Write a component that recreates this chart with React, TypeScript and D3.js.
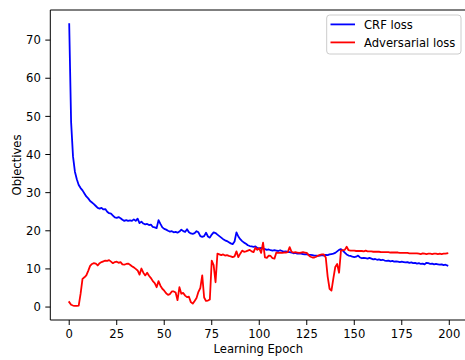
import React from "react";
import * as d3 from "d3";

const crfLoss: number[] = [
  74.2, 48.5, 39.5, 35.5, 33.5, 32.0, 31.2, 30.6, 29.8, 29.0,
  28.5, 27.8, 27.4, 27.0, 26.5, 26.0, 25.8, 26.0, 25.6, 25.7,
  25.0, 24.6, 24.5, 24.0, 23.5, 23.4, 23.6, 23.3, 22.9, 22.6,
  22.8, 22.6, 22.7, 22.6, 23.0, 22.6, 23.2, 22.0, 22.4, 21.9,
  21.7, 21.8, 21.5, 21.6, 21.0, 20.9, 20.7, 22.8, 21.8, 20.9,
  20.5, 20.3, 20.0, 19.8, 19.9, 19.6, 19.7, 19.5, 19.8, 20.3,
  19.9, 19.7, 20.4, 19.6, 19.3, 19.2, 19.4, 19.9, 19.6, 18.6,
  18.4, 18.6, 19.5, 18.5, 18.2, 19.0, 19.6, 19.4, 19.0, 18.6,
  18.2, 17.8, 17.5, 17.3, 17.0, 16.7, 16.5, 17.2, 19.6, 18.5,
  17.8, 17.3, 16.9, 16.6, 16.2, 16.0, 15.9, 15.8, 15.9, 15.5,
  15.4, 15.5, 15.3, 15.2, 15.0, 15.1, 14.9, 14.8, 14.9, 14.8,
  14.7, 14.9, 14.7, 14.5, 14.6, 14.4, 14.4, 14.3, 14.1, 14.2,
  14.0, 14.1, 14.0, 13.9, 13.8, 13.9, 13.7, 13.7, 13.6, 13.5,
  13.5, 13.4, 13.5, 13.6, 13.5, 13.7, 13.6, 13.8, 13.9, 14.0,
  14.2, 14.6, 15.0, 15.2, 14.8, 14.3, 13.8, 13.5, 13.4, 13.2,
  13.1, 13.2, 13.5, 13.0, 12.8, 12.9, 12.8, 12.7, 12.9, 12.7,
  12.5, 12.6, 12.4, 12.5, 12.3, 12.4, 12.2, 12.1, 12.2, 12.0,
  12.1, 11.9, 12.0, 11.9, 11.8, 11.9, 11.8, 11.7, 11.8, 11.6,
  11.7, 11.5, 11.6, 11.4, 11.5, 11.3, 11.4, 11.2, 11.6, 11.5,
  11.3, 11.4, 11.2, 11.3, 11.2, 11.1, 11.2, 11.0, 11.1, 10.9,
];

const adversarialLoss: number[] = [
  1.3, 0.6, 0.4, 0.3, 0.3, 0.4, 3.5, 7.4, 7.8, 8.3,
  9.5, 10.8, 11.3, 11.5, 11.4, 10.9, 11.5, 11.8, 12.0, 12.2,
  12.1, 12.3, 11.9, 11.5, 11.8, 11.9, 11.6, 11.8, 11.2, 11.1,
  11.3, 11.4, 11.1, 10.7, 10.4, 10.0, 9.6, 8.5, 10.1, 9.0,
  8.3, 9.0, 8.2, 7.6, 6.8, 6.3, 5.2, 6.8, 5.6, 4.8,
  4.3, 3.6, 3.2, 3.4, 4.1, 4.1, 3.8, 1.8, 5.2, 3.5,
  3.7, 3.0, 2.6, 2.7, 1.3, 0.9, 1.6, 2.4, 4.0, 5.0,
  8.3, 2.5, 1.6, 1.7, 2.0, 12.2, 11.0, 6.5, 14.0, 13.8,
  13.6, 13.8, 13.5, 13.6, 13.4, 13.3, 13.1, 13.3, 14.6, 13.1,
  14.0, 14.8, 14.5, 14.6, 14.8, 15.0, 14.6, 14.4, 15.6, 15.0,
  15.4, 14.2, 16.9, 13.0, 12.9, 13.5, 13.4, 12.8, 12.7, 14.3,
  14.2, 14.3, 14.2, 14.3, 14.3, 14.4, 15.7, 14.5, 14.3, 14.4,
  14.3, 14.2, 14.3, 14.4, 14.3, 14.2, 13.6, 13.2, 13.0, 13.0,
  13.2, 13.5, 13.7, 13.8, 13.8, 13.0, 8.0, 4.8, 4.3, 7.5,
  10.5, 11.3, 9.0, 14.8, 14.9, 15.0, 15.8, 14.9, 14.8, 14.8,
  14.8, 14.7, 14.7, 14.7, 14.7, 14.6, 14.8, 14.6, 14.6, 14.6,
  14.5, 14.5, 14.5, 14.5, 14.4, 14.4, 14.4, 14.4, 14.4, 14.3,
  14.3, 14.3, 14.3, 14.3, 14.2, 14.2, 14.2, 14.2, 14.2, 14.1,
  14.1, 14.1, 14.1, 14.1, 14.0, 13.9, 14.1, 14.0, 13.9, 14.0,
  14.0, 13.9, 14.0, 14.0, 13.9, 14.0, 13.9, 14.0, 14.0, 14.1,
];

const xTicks: number[] = [0, 25, 50, 75, 100, 125, 150, 175, 200];
const yTicks: number[] = [0, 10, 20, 30, 40, 50, 60, 70];
const seriesNames: string[] = ["CRF loss", "Adversarial loss"];
const seriesColors: string[] = ["#0000ff", "#ff0000"];
const xLabel = "Learning Epoch";
const yLabel = "Objectives";

const W = 465;
const H = 360;
const plot = { left: 50.3, right: 466.3, top: 10, bottom: 320 };
const FONT = "'DejaVu Sans', sans-serif";
const FS = 11.6;

export default function App() {
  const n = crfLoss.length;
  const xPad = (n - 1) * 0.05;
  const x = d3.scaleLinear().domain([-xPad, n - 1 + xPad]).range([plot.left, plot.right]);
  const all = [...crfLoss, ...adversarialLoss];
  const [mn, mx] = d3.extent(all) as [number, number];
  const yPad = (mx - mn) * 0.05;
  const y = d3.scaleLinear().domain([mn - yPad, mx + yPad]).range([plot.bottom, plot.top]);

  const line = d3
    .line<number>()
    .x((_, i) => x(i))
    .y((d) => y(d));

  const series = [crfLoss, adversarialLoss];

  const legend = { x: 326.7, y: 15, w: 134.3, h: 39 };

  return (
    <div style={{ position: "fixed", left: 0, top: 0, width: W, height: H, background: "#fff" }}>
      <svg width={W} height={H} style={{ display: "block" }} fontFamily={FONT}>
        <rect x={0} y={0} width={W} height={H} fill="#fff" />
        <defs>
          <clipPath id="plotclip">
            <rect x={plot.left} y={plot.top} width={plot.right - plot.left} height={plot.bottom - plot.top} />
          </clipPath>
        </defs>
        <g clipPath="url(#plotclip)">
          {series.map((s, i) => (
            <path
              key={i}
              d={line(s) || ""}
              fill="none"
              stroke={seriesColors[i]}
              strokeWidth={1.8}
              strokeLinejoin="round"
              strokeLinecap="square"
            />
          ))}
        </g>
        {/* spines */}
        <line x1={plot.left} x2={plot.left} y1={plot.top} y2={plot.bottom} stroke="#000" strokeWidth={1} />
        <line x1={plot.left} x2={plot.right} y1={plot.bottom} y2={plot.bottom} stroke="#000" strokeWidth={1} />
        <line x1={plot.left} x2={plot.right} y1={plot.top} y2={plot.top} stroke="#000" strokeWidth={1} />
        <line x1={plot.right} x2={plot.right} y1={plot.top} y2={plot.bottom} stroke="#000" strokeWidth={1} />
        {/* x ticks */}
        {xTicks.map((t) => (
          <g key={"x" + t}>
            <line x1={x(t)} x2={x(t)} y1={plot.bottom} y2={plot.bottom + 5} stroke="#000" strokeWidth={1} />
            <text x={x(t)} y={plot.bottom + 17.8} textAnchor="middle" fontSize={FS} fill="#000">
              {t}
            </text>
          </g>
        ))}
        {/* y ticks */}
        {yTicks.map((t) => (
          <g key={"y" + t}>
            <line x1={plot.left - 5} x2={plot.left} y1={y(t)} y2={y(t)} stroke="#000" strokeWidth={1} />
            <text x={plot.left - 9.5} y={y(t) + 4.2} textAnchor="end" fontSize={FS} fill="#000">
              {t}
            </text>
          </g>
        ))}
        <text x={(plot.left + plot.right) / 2} y={353.3} textAnchor="middle" fontSize={FS} fill="#000">
          {xLabel}
        </text>
        <text
          transform={`translate(20.5, ${(plot.top + plot.bottom) / 2}) rotate(-90)`}
          textAnchor="middle"
          fontSize={FS}
          fill="#000"
        >
          {yLabel}
        </text>
        {/* legend */}
        <rect
          x={legend.x}
          y={legend.y}
          width={legend.w}
          height={legend.h}
          rx={3}
          ry={3}
          fill="#fff"
          fillOpacity={0.8}
          stroke="#cccccc"
          strokeWidth={1}
        />
        {seriesNames.map((name, i) => {
          const cy = 24.4 + i * 18;
          return (
            <g key={name}>
              <line x1={330.5} x2={355} y1={cy} y2={cy} stroke={seriesColors[i]} strokeWidth={1.8} />
              <text x={364} y={cy + 4.2} fontSize={FS} fill="#000">
                {name}
              </text>
            </g>
          );
        })}
      </svg>
    </div>
  );
}
